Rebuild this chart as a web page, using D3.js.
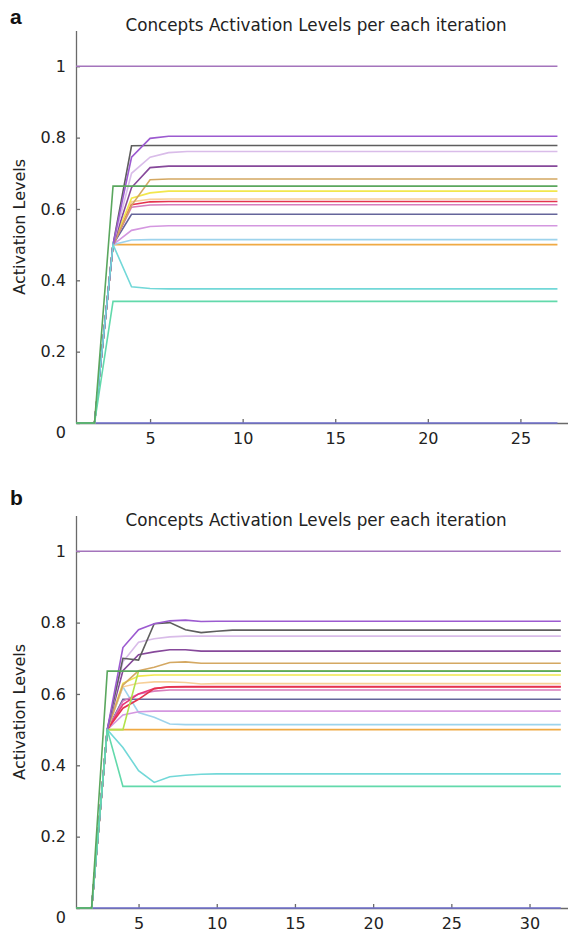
<!DOCTYPE html>
<html>
<head>
<meta charset="utf-8">
<style>
body { margin: 0; background: #fff; }
svg { font-family: "DejaVu Sans", sans-serif; }
.series { fill: none; stroke-width: 1.6px; }
.axis path, .axis line { stroke: #6a6a6a; stroke-width: 1.3px; }
.axis text { font-size: 16px; fill: #222; font-family: "DejaVu Sans", sans-serif; }
.title { font-size: 16.8px; fill: #222; }
.ylab { font-size: 16px; fill: #222; }
.panel { font: bold 21px "Liberation Sans", Arial, sans-serif; fill: #111; }
</style>
</head>
<body>
<svg width="568" height="935"></svg>
<script src="https://d3js.org/d3.v7.min.js"></script>
<script>

// ---- data, panel a (27 iterations) ----
var itersA = [1,2,3,4,5,6,7,8,9,10,11,12,13,14,15,16,17,18,19,20,21,22,23,24,25,26,27];

var one_a     = [1,1,1,1,1,1,1,1,1,1,1,1,1,1,1,1,1,1,1,1,1,1,1,1,1,1,1];
var zero_a    = [0,0,0,0,0,0,0,0,0,0,0,0,0,0,0,0,0,0,0,0,0,0,0,0,0,0,0];
var purple_a  = [0,0,0.5,0.745,0.798,0.804,0.804,0.804,0.804,0.804,0.804,0.804,0.804,0.804,0.804,0.804,0.804,0.804,0.804,0.804,0.804,0.804,0.804,0.804,0.804,0.804,0.804];
var grey_a    = [0,0,0.5,0.777,0.778,0.778,0.778,0.778,0.778,0.778,0.778,0.778,0.778,0.778,0.778,0.778,0.778,0.778,0.778,0.778,0.778,0.778,0.778,0.778,0.778,0.778,0.778];
var lav_a     = [0,0,0.5,0.70,0.745,0.758,0.761,0.761,0.761,0.761,0.761,0.761,0.761,0.761,0.761,0.761,0.761,0.761,0.761,0.761,0.761,0.761,0.761,0.761,0.761,0.761,0.761];
var dpurp_a   = [0,0,0.5,0.66,0.716,0.72,0.72,0.72,0.72,0.72,0.72,0.72,0.72,0.72,0.72,0.72,0.72,0.72,0.72,0.72,0.72,0.72,0.72,0.72,0.72,0.72,0.72];
var tan_a     = [0,0,0.5,0.61,0.682,0.684,0.684,0.684,0.684,0.684,0.684,0.684,0.684,0.684,0.684,0.684,0.684,0.684,0.684,0.684,0.684,0.684,0.684,0.684,0.684,0.684,0.684];
var yellow_a  = [0,0,0.5,0.63,0.645,0.65,0.65,0.65,0.65,0.65,0.65,0.65,0.65,0.65,0.65,0.65,0.65,0.65,0.65,0.65,0.65,0.65,0.65,0.65,0.65,0.65,0.65];
var paleor_a  = [0,0,0.5,0.62,0.627,0.628,0.628,0.628,0.628,0.628,0.628,0.628,0.628,0.628,0.628,0.628,0.628,0.628,0.628,0.628,0.628,0.628,0.628,0.628,0.628,0.628,0.628];
var red_a     = [0,0,0.5,0.612,0.62,0.621,0.621,0.621,0.621,0.621,0.621,0.621,0.621,0.621,0.621,0.621,0.621,0.621,0.621,0.621,0.621,0.621,0.621,0.621,0.621,0.621,0.621];
var pink_a    = [0,0,0.5,0.605,0.611,0.612,0.612,0.612,0.612,0.612,0.612,0.612,0.612,0.612,0.612,0.612,0.612,0.612,0.612,0.612,0.612,0.612,0.612,0.612,0.612,0.612,0.612];
var navy_a    = [0,0,0.5,0.585,0.585,0.585,0.585,0.585,0.585,0.585,0.585,0.585,0.585,0.585,0.585,0.585,0.585,0.585,0.585,0.585,0.585,0.585,0.585,0.585,0.585,0.585,0.585];
var lilac_a   = [0,0,0.5,0.54,0.551,0.553,0.553,0.553,0.553,0.553,0.553,0.553,0.553,0.553,0.553,0.553,0.553,0.553,0.553,0.553,0.553,0.553,0.553,0.553,0.553,0.553,0.553];
var lblue_a   = [0,0,0.5,0.513,0.514,0.514,0.514,0.514,0.514,0.514,0.514,0.514,0.514,0.514,0.514,0.514,0.514,0.514,0.514,0.514,0.514,0.514,0.514,0.514,0.514,0.514,0.514];
var orange_a  = [0,0,0.5,0.5,0.5,0.5,0.5,0.5,0.5,0.5,0.5,0.5,0.5,0.5,0.5,0.5,0.5,0.5,0.5,0.5,0.5,0.5,0.5,0.5,0.5,0.5,0.5];
var cyan_a    = [0,0,0.5,0.382,0.377,0.376,0.376,0.376,0.376,0.376,0.376,0.376,0.376,0.376,0.376,0.376,0.376,0.376,0.376,0.376,0.376,0.376,0.376,0.376,0.376,0.376,0.376];
var teal_a    = [0,0,0.341,0.341,0.341,0.341,0.341,0.341,0.341,0.341,0.341,0.341,0.341,0.341,0.341,0.341,0.341,0.341,0.341,0.341,0.341,0.341,0.341,0.341,0.341,0.341,0.341];
var green_a   = [0,0,0.664,0.664,0.664,0.664,0.664,0.664,0.664,0.664,0.664,0.664,0.664,0.664,0.664,0.664,0.664,0.664,0.664,0.664,0.664,0.664,0.664,0.664,0.664,0.664,0.664];

// ---- data, panel b (32 iterations) ----
var itersB = [1,2,3,4,5,6,7,8,9,10,11,12,13,14,15,16,17,18,19,20,21,22,23,24,25,26,27,28,29,30,31,32];

var one_b     = [1,1,1,1,1,1,1,1,1,1,1,1,1,1,1,1,1,1,1,1,1,1,1,1,1,1,1,1,1,1,1,1];
var zero_b    = [0,0,0,0,0,0,0,0,0,0,0,0,0,0,0,0,0,0,0,0,0,0,0,0,0,0,0,0,0,0,0,0];
var purple_b  = [0,0,0.5,0.73,0.78,0.797,0.805,0.807,0.803,0.804,0.804,0.804,0.804,0.804,0.804,0.804,0.804,0.804,0.804,0.804,0.804,0.804,0.804,0.804,0.804,0.804,0.804,0.804,0.804,0.804,0.804,0.804];
var grey_b    = [0,0,0.5,0.70,0.695,0.797,0.80,0.78,0.772,0.776,0.779,0.779,0.779,0.779,0.779,0.779,0.779,0.779,0.779,0.779,0.779,0.779,0.779,0.779,0.779,0.779,0.779,0.779,0.779,0.779,0.779,0.779];
var lav_b     = [0,0,0.5,0.69,0.745,0.755,0.76,0.762,0.762,0.762,0.762,0.762,0.762,0.762,0.762,0.762,0.762,0.762,0.762,0.762,0.762,0.762,0.762,0.762,0.762,0.762,0.762,0.762,0.762,0.762,0.762,0.762];
var dpurp_b   = [0,0,0.5,0.665,0.71,0.718,0.724,0.724,0.72,0.72,0.72,0.72,0.72,0.72,0.72,0.72,0.72,0.72,0.72,0.72,0.72,0.72,0.72,0.72,0.72,0.72,0.72,0.72,0.72,0.72,0.72,0.72];
var tan_b     = [0,0,0.5,0.625,0.665,0.675,0.688,0.69,0.686,0.686,0.686,0.686,0.686,0.686,0.686,0.686,0.686,0.686,0.686,0.686,0.686,0.686,0.686,0.686,0.686,0.686,0.686,0.686,0.686,0.686,0.686,0.686];
var lime_b    = [0,0,0.5,0.5,0.664,0.664,0.664,0.664,0.664,0.664,0.664,0.664,0.664,0.664,0.664,0.664,0.664,0.664,0.664,0.664,0.664,0.664,0.664,0.664,0.664,0.664,0.664,0.664,0.664,0.664,0.664,0.664];
var yellow_b  = [0,0,0.5,0.63,0.65,0.653,0.653,0.653,0.653,0.653,0.653,0.653,0.653,0.653,0.653,0.653,0.653,0.653,0.653,0.653,0.653,0.653,0.653,0.653,0.653,0.653,0.653,0.653,0.653,0.653,0.653,0.653];
var paleor_b  = [0,0,0.5,0.62,0.63,0.634,0.634,0.632,0.628,0.629,0.629,0.629,0.629,0.629,0.629,0.629,0.629,0.629,0.629,0.629,0.629,0.629,0.629,0.629,0.629,0.629,0.629,0.629,0.629,0.629,0.629,0.629];
var mag_b     = [0,0,0.5,0.57,0.60,0.615,0.62,0.621,0.621,0.621,0.621,0.621,0.621,0.621,0.621,0.621,0.621,0.621,0.621,0.621,0.621,0.621,0.621,0.621,0.621,0.621,0.621,0.621,0.621,0.621,0.621,0.621];
var pink_b    = [0,0,0.5,0.58,0.60,0.608,0.611,0.611,0.611,0.611,0.611,0.611,0.611,0.611,0.611,0.611,0.611,0.611,0.611,0.611,0.611,0.611,0.611,0.611,0.611,0.611,0.611,0.611,0.611,0.611,0.611,0.611];
var red_b     = [0,0,0.5,0.56,0.585,0.615,0.62,0.62,0.62,0.62,0.62,0.62,0.62,0.62,0.62,0.62,0.62,0.62,0.62,0.62,0.62,0.62,0.62,0.62,0.62,0.62,0.62,0.62,0.62,0.62,0.62,0.62];
var navy_b    = [0,0,0.5,0.585,0.585,0.585,0.585,0.585,0.585,0.585,0.585,0.585,0.585,0.585,0.585,0.585,0.585,0.585,0.585,0.585,0.585,0.585,0.585,0.585,0.585,0.585,0.585,0.585,0.585,0.585,0.585,0.585];
var lilac_b   = [0,0,0.5,0.541,0.55,0.552,0.552,0.552,0.552,0.552,0.552,0.552,0.552,0.552,0.552,0.552,0.552,0.552,0.552,0.552,0.552,0.552,0.552,0.552,0.552,0.552,0.552,0.552,0.552,0.552,0.552,0.552];
var lblue_b   = [0,0,0.5,0.62,0.548,0.535,0.516,0.514,0.514,0.514,0.514,0.514,0.514,0.514,0.514,0.514,0.514,0.514,0.514,0.514,0.514,0.514,0.514,0.514,0.514,0.514,0.514,0.514,0.514,0.514,0.514,0.514];
var orange_b  = [0,0,0.5,0.5,0.5,0.5,0.5,0.5,0.5,0.5,0.5,0.5,0.5,0.5,0.5,0.5,0.5,0.5,0.5,0.5,0.5,0.5,0.5,0.5,0.5,0.5,0.5,0.5,0.5,0.5,0.5,0.5];
var cyan_b    = [0,0,0.5,0.45,0.385,0.352,0.368,0.372,0.375,0.376,0.376,0.376,0.376,0.376,0.376,0.376,0.376,0.376,0.376,0.376,0.376,0.376,0.376,0.376,0.376,0.376,0.376,0.376,0.376,0.376,0.376,0.376];
var teal_b    = [0,0,0.5,0.341,0.341,0.341,0.341,0.341,0.341,0.341,0.341,0.341,0.341,0.341,0.341,0.341,0.341,0.341,0.341,0.341,0.341,0.341,0.341,0.341,0.341,0.341,0.341,0.341,0.341,0.341,0.341,0.341];
var green_b   = [0,0,0.664,0.664,0.664,0.664,0.664,0.664,0.664,0.664,0.664,0.664,0.664,0.664,0.664,0.664,0.664,0.664,0.664,0.664,0.664,0.664,0.664,0.664,0.664,0.664,0.664,0.664,0.664,0.664,0.664,0.664];

var yTicks = [0, 0.2, 0.4, 0.6, 0.8, 1];
var xTicksA = [5, 10, 15, 20, 25];
var xTicksB = [5, 10, 15, 20, 25, 30];
var titleText = "Concepts Activation Levels per each iteration";
var yLabelText = "Activation Levels";

// colours, kept apart from the values
var col = {
  one: "#a474bc", zero: "#7272d2", purple: "#9c5ad0", grey: "#5e5e5e",
  lav: "#d9bce9", dpurp: "#86489a", tan: "#d4a862", lime: "#b2e24a",
  yellow: "#f2e74c", paleor: "#f7cf98", mag: "#e8377a", red: "#e4344e",
  pink: "#d77cbc", navy: "#65659a", lilac: "#d497e0", lblue: "#9dd3ec",
  orange: "#f0aa44", cyan: "#72d8d8", teal: "#62d9ab", green: "#5aa75e"
};

var seriesA = [
  [zero_a, "zero"], [one_a, "one"], [orange_a, "orange"], [lblue_a, "lblue"],
  [lilac_a, "lilac"], [navy_a, "navy"], [pink_a, "pink"], [paleor_a, "paleor"],
  [red_a, "red"], [yellow_a, "yellow"], [tan_a, "tan"], [dpurp_a, "dpurp"],
  [lav_a, "lav"], [grey_a, "grey"], [purple_a, "purple"], [cyan_a, "cyan"],
  [teal_a, "teal"], [green_a, "green"]
];
var seriesB = [
  [zero_b, "zero"], [one_b, "one"], [orange_b, "orange"], [lblue_b, "lblue"],
  [lilac_b, "lilac"], [navy_b, "navy"], [pink_b, "pink"], [paleor_b, "paleor"],
  [mag_b, "mag"], [red_b, "red"], [yellow_b, "yellow"], [lime_b, "lime"],
  [tan_b, "tan"], [dpurp_b, "dpurp"], [lav_b, "lav"], [grey_b, "grey"],
  [purple_b, "purple"], [cyan_b, "cyan"], [teal_b, "teal"], [green_b, "green"]
];

var svg = d3.select("svg");

function drawPanel(p) {
  var x = d3.scaleLinear().domain([1, p.xmax]).range([76, 568]);
  var y = d3.scaleLinear().domain([0, 1.1]).range([p.bottom, p.bottom - 392.4]);
  var g = svg.append("g");

  var line = d3.line()
    .x(function(d, i) { return x(p.iters[i]); })
    .y(function(d) { return y(d); });

  g.append("g")
    .attr("class", "axis")
    .attr("transform", "translate(0," + p.bottom + ")")
    .call(d3.axisBottom(x).tickValues(p.xTicks).tickSizeInner(-4).tickSizeOuter(0).tickPadding(10));

  var ya = g.append("g")
    .attr("class", "axis")
    .attr("transform", "translate(76,0)")
    .call(d3.axisLeft(y).tickValues(yTicks).tickFormat(d3.format("")).tickSizeInner(-4).tickSizeOuter(0).tickPadding(10));
  ya.selectAll(".tick").filter(function(d) { return d === 0; })
    .select("text").attr("dy", "0.9em");

  g.selectAll(".series")
    .data(p.series)
    .enter().append("path")
    .attr("class", "series")
    .attr("stroke", function(s) { return col[s[1]]; })
    .attr("d", function(s) { return line(s[0]); });

  g.append("text")
    .attr("class", "title")
    .attr("x", 316).attr("y", p.titleY)
    .attr("text-anchor", "middle")
    .text(titleText);

  g.append("text")
    .attr("class", "ylab")
    .attr("transform", "translate(25," + y(0.55) + ") rotate(-90)")
    .attr("text-anchor", "middle")
    .text(yLabelText);

  g.append("text")
    .attr("class", "panel")
    .attr("x", 10).attr("y", p.letterY)
    .text(p.letter);
}

drawPanel({ iters: itersA, series: seriesA, xmax: 27.57, xTicks: xTicksA, bottom: 423, titleY: 31, letterY: 24, letter: "a" });
drawPanel({ iters: itersB, series: seriesB, xmax: 32.46, xTicks: xTicksB, bottom: 908, titleY: 526, letterY: 505, letter: "b" });

</script>
</body>
</html>
